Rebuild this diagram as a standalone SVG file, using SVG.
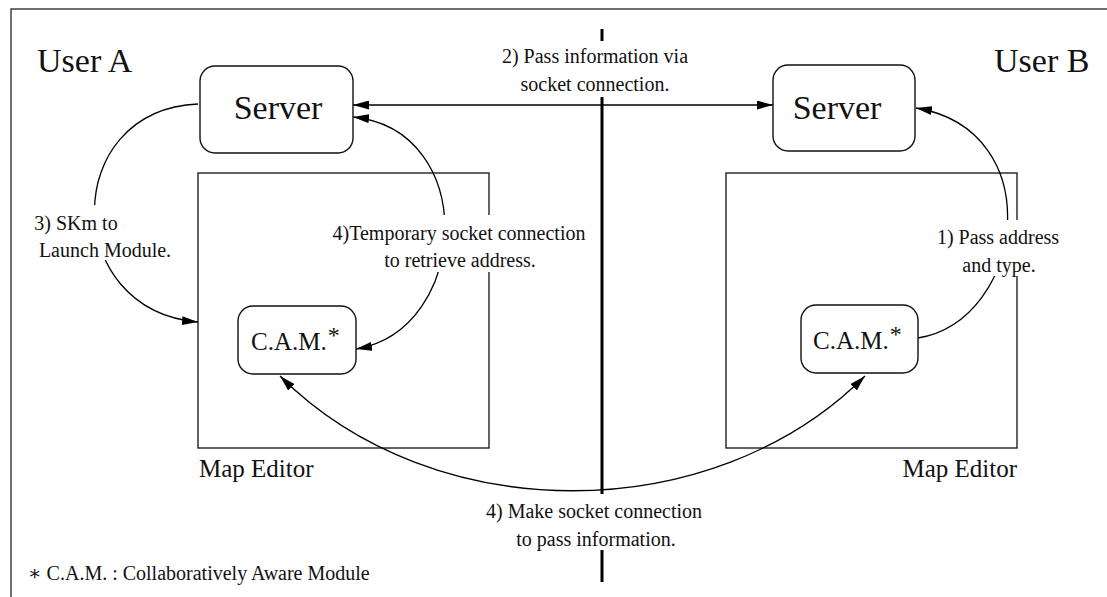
<svg xmlns="http://www.w3.org/2000/svg" width="1107" height="597" viewBox="0 0 1107 597" font-family="'Liberation Serif', 'Times New Roman', Times, 'DejaVu Serif', serif">
  <style>
    text { fill: #111; }
    .big { font-size: 34px; }
    .node-text { font-size: 34px; text-anchor: middle; }
    .cam-text { font-size: 25px; }
    .sup { font-size: 24px; }
    .caption { font-size: 25px; }
    .label { font-size: 20px; text-anchor: middle; }
    .frame { fill: none; stroke: #222; stroke-width: 1.3; }
    .box { fill: #fff; stroke: #111; stroke-width: 1.4; }
    .editor { fill: none; stroke: #222; stroke-width: 1.4; }
    .edge { fill: none; stroke: #000; stroke-width: 1.3; }
    .divider { stroke: #000; stroke-width: 3; }
    .mask { fill: #fff; }
  </style>
  <defs>
    <marker id="arrow" viewBox="0 0 16 9" refX="16" refY="4.5" markerWidth="16" markerHeight="9" markerUnits="userSpaceOnUse" orient="auto-start-reverse">
      <path d="M0,0 L16,4.5 L0,9 z" fill="#000"/>
    </marker>
  </defs>

  <rect width="1107" height="597" fill="#fff"/>

  <!-- outer frame, open past the right and bottom edges -->
  <rect class="frame" x="11" y="9" width="1110" height="600"/>

  <!-- divider between the two users -->
  <g id="divider">
    <line class="divider" x1="602" y1="29" x2="602" y2="41"/>
    <line class="divider" x1="602" y1="97" x2="602" y2="494"/>
    <line class="divider" x1="602" y1="550" x2="602" y2="582"/>
  </g>

  <text class="big" x="37" y="72">User A</text>
  <text class="big" x="994" y="72">User B</text>

  <!-- map editor containers -->
  <g id="mapEditorA">
    <rect class="editor" x="198" y="173" width="291" height="275"/>
    <text class="caption" x="199" y="477">Map Editor</text>
  </g>
  <g id="mapEditorB">
    <rect class="editor" x="726" y="173" width="291" height="275"/>
    <text class="caption" x="1017" y="477" text-anchor="end">Map Editor</text>
  </g>

  <!-- connectors -->
  <g id="connectors">
    <path class="edge" d="M353,105 L773,105" marker-start="url(#arrow)" marker-end="url(#arrow)"/>
    <path class="edge" d="M918,338 C1025,320 1050,130 916,108" marker-end="url(#arrow)"/>
    <path class="edge" d="M198,104 C60,110 60,310 198,322" marker-end="url(#arrow)"/>
    <path class="edge" d="M356,349 C470,330 480,130 353,117" marker-start="url(#arrow)" marker-end="url(#arrow)"/>
    <path class="edge" d="M280,376 C433,529 712,529 865,376" marker-start="url(#arrow)" marker-end="url(#arrow)"/>
  </g>

  <!-- connector labels, each on a white plate -->
  <g id="label-step2">
    <rect class="mask" x="500" y="42" width="188" height="54"/>
    <text class="label" x="595" y="63">2) Pass information via</text>
    <text class="label" x="595" y="91">socket connection.</text>
  </g>
  <g id="label-step1">
    <rect class="mask" x="937" y="220" width="122" height="56"/>
    <text class="label" x="998" y="244">1) Pass address</text>
    <text class="label" x="999" y="272">and type.</text>
  </g>
  <g id="label-step3">
    <rect class="mask" x="34" y="205" width="138" height="55"/>
    <text class="label" x="76" y="230">3) SKm to</text>
    <text class="label" x="105" y="257">Launch Module.</text>
  </g>
  <g id="label-step4-temp">
    <rect class="mask" x="331" y="215" width="256" height="57"/>
    <text class="label" x="459" y="240">4)Temporary socket connection</text>
    <text class="label" x="460" y="267">to retrieve address.</text>
  </g>
  <g id="label-step4-make">
    <rect class="mask" x="485" y="495" width="218" height="54"/>
    <text class="label" x="594" y="518">4) Make socket connection</text>
    <text class="label" x="596" y="546">to pass information.</text>
  </g>

  <!-- nodes -->
  <g id="serverA">
    <rect class="box" x="200" y="66" width="153" height="87" rx="15"/>
    <text class="node-text" x="278" y="119">Server</text>
  </g>
  <g id="serverB">
    <rect class="box" x="773" y="65" width="142" height="86" rx="15"/>
    <text class="node-text" x="837" y="119">Server</text>
  </g>
  <g id="camA">
    <rect class="box" x="238" y="306" width="118" height="68" rx="15"/>
    <text class="cam-text" x="251" y="350">C.A.M.<tspan class="sup" dx="1" dy="-7">*</tspan></text>
  </g>
  <g id="camB">
    <rect class="box" x="801" y="305" width="117" height="68" rx="15"/>
    <text class="cam-text" x="813" y="349">C.A.M.<tspan class="sup" dx="1" dy="-7">*</tspan></text>
  </g>

  <!-- footnote -->
  <text x="28" y="580" font-size="20">∗ C.A.M. : Collaboratively Aware Module</text>
</svg>
